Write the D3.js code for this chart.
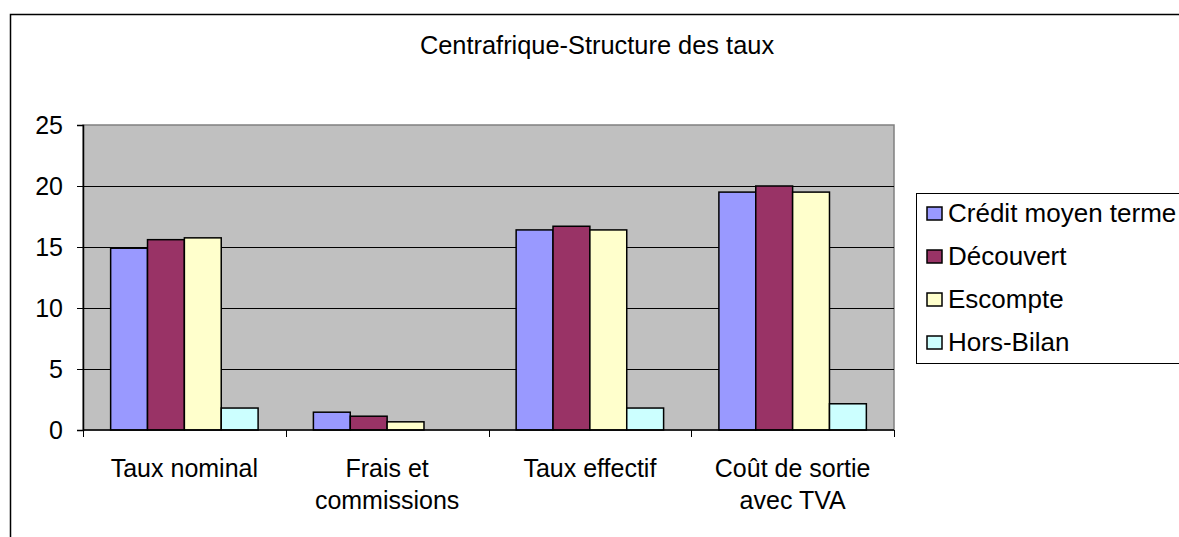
<!DOCTYPE html>
<html>
<head>
<meta charset="utf-8">
<script src="https://cdn.jsdelivr.net/npm/d3@7"></script>
<style>
  body { margin: 0; background: #fff; }
  svg { display: block; font-family: "Liberation Sans", Arial, sans-serif; }
</style>
</head>
<body>
<div id="chart"></div>
<script>
(function(){

  // chart data
  var categories = [["Taux nominal"], ["Frais et", "commissions"], ["Taux effectif"], ["Coût de sortie", "avec TVA"]];
  var seriesNames = ["Crédit moyen terme", "Découvert", "Escompte", "Hors-Bilan"];
  var seriesColors = ["#9999ff", "#993366", "#ffffcc", "#ccffff"];
  var creditValues = [14.9, 1.46, 16.4, 19.5];
  var decouvertValues = [15.6, 1.13, 16.7, 20.0];
  var escompteValues = [15.75, 0.67, 16.4, 19.5];
  var horsBilanValues = [1.8, 0, 1.8, 2.15];
  var yTicks = [0, 5, 10, 15, 20, 25];
  var chartTitle = "Centrafrique-Structure des taux";

  var allSeries = [creditValues, decouvertValues, escompteValues, horsBilanValues];

  var width = 1179, height = 537;
  var plot = {left: 83, right: 894, top: 125, bottom: 430};

  var svg = d3.select("#chart").append("svg")
    .attr("width", width)
    .attr("height", height);

  // outer chart frame (runs off the picture on the right and bottom)
  svg.append("rect")
    .attr("x", 10.5).attr("y", 14.5)
    .attr("width", 1200).attr("height", 600)
    .attr("fill", "#fff")
    .attr("stroke", "#000")
    .attr("stroke-width", 1.5);

  svg.append("text")
    .attr("x", 597).attr("y", 54)
    .attr("text-anchor", "middle")
    .attr("font-size", 25.4)
    .text(chartTitle);

  var catIndex = d3.range(categories.length);
  var x0 = d3.scaleBand().domain(catIndex).range([plot.left, plot.right]).padding(0);
  var x1 = d3.scaleBand().domain(d3.range(seriesNames.length))
    .range([0, x0.bandwidth()]).paddingInner(0).paddingOuter(0.75);
  var y = d3.scaleLinear().domain([0, 25]).range([plot.bottom, plot.top]);

  // plot area background
  svg.append("rect")
    .attr("x", plot.left).attr("y", plot.top)
    .attr("width", plot.right - plot.left).attr("height", plot.bottom - plot.top)
    .attr("fill", "#c0c0c0")
    .attr("stroke", "#808080")
    .attr("stroke-width", 1.5);

  // gridlines
  svg.append("g").selectAll("line")
    .data(yTicks.filter(function(t){ return t > 0 && t < 25; }))
    .enter().append("line")
    .attr("x1", plot.left).attr("x2", plot.right)
    .attr("y1", function(d){ return Math.round(y(d)) + 0.5; })
    .attr("y2", function(d){ return Math.round(y(d)) + 0.5; })
    .attr("stroke", "#000")
    .attr("stroke-width", 1);

  // bars
  var groups = svg.append("g").selectAll("g")
    .data(catIndex)
    .enter().append("g")
    .attr("transform", function(c){ return "translate(" + x0(c) + ",0)"; });

  groups.selectAll("rect")
    .data(function(c){
      return allSeries.map(function(s, i){ return {series: i, value: s[c]}; });
    })
    .enter().append("rect")
    .filter(function(d){ return d.value > 0; })
    .attr("x", function(d){ return x1(d.series); })
    .attr("width", x1.bandwidth())
    .attr("y", function(d){ return y(d.value); })
    .attr("height", function(d){ return y(0) - y(d.value); })
    .attr("fill", function(d){ return seriesColors[d.series]; })
    .attr("stroke", "#000")
    .attr("stroke-width", 1.5);

  // y axis
  var yAxis = d3.axisLeft(y).tickValues(yTicks).tickSize(6).tickPadding(14);
  var yg = svg.append("g")
    .attr("transform", "translate(" + plot.left + ",0)")
    .call(yAxis);
  yg.select(".domain").attr("stroke", "#000").attr("stroke-width", 1.5);
  yg.selectAll(".tick line").attr("stroke", "#000");
  yg.selectAll(".tick text")
    .attr("font-size", 25)
    .attr("font-family", "Liberation Sans, Arial, sans-serif")
    .attr("fill", "#000");

  // x axis: tick marks at category boundaries
  var xg = svg.append("g");
  xg.append("line")
    .attr("x1", plot.left).attr("x2", plot.right)
    .attr("y1", plot.bottom).attr("y2", plot.bottom)
    .attr("stroke", "#000").attr("stroke-width", 1.5);
  xg.selectAll(".xtick")
    .data(d3.range(categories.length + 1))
    .enter().append("line")
    .attr("class", "xtick")
    .attr("x1", function(i){ return Math.round(plot.left + i * x0.step()) + 0.5; })
    .attr("x2", function(i){ return Math.round(plot.left + i * x0.step()) + 0.5; })
    .attr("y1", plot.bottom).attr("y2", plot.bottom + 7)
    .attr("stroke", "#000");

  var labels = xg.selectAll(".xlabel")
    .data(catIndex)
    .enter().append("text")
    .attr("class", "xlabel")
    .attr("text-anchor", "middle")
    .attr("font-size", 25)
    .attr("x", function(c){ return x0(c) + x0.bandwidth() / 2; })
    .attr("y", 477);
  labels.selectAll("tspan")
    .data(function(c){ return categories[c]; })
    .enter().append("tspan")
    .attr("x", function(){ var c = d3.select(this.parentNode).datum(); return x0(c) + x0.bandwidth() / 2; })
    .attr("dy", function(d, i){ return i === 0 ? 0 : 32; })
    .text(function(d){ return d; });

  // legend
  var legend = svg.append("g");
  legend.append("rect")
    .attr("x", 916.5).attr("y", 193.5)
    .attr("width", 300).attr("height", 170)
    .attr("fill", "#fff")
    .attr("stroke", "#000")
    .attr("stroke-width", 1);

  var items = legend.selectAll(".item")
    .data(seriesNames)
    .enter().append("g")
    .attr("class", "item")
    .attr("transform", function(d, i){ return "translate(0," + (213 + i * 43) + ")"; });
  items.append("rect")
    .attr("x", 927).attr("y", -6)
    .attr("width", 15).attr("height", 13)
    .attr("fill", function(d, i){ return seriesColors[i]; })
    .attr("stroke", "#000")
    .attr("stroke-width", 1.5);
  items.append("text")
    .attr("x", 948).attr("y", 9)
    .attr("font-size", 26)
    .text(function(d){ return d; });

})();
</script>
</body>
</html>
